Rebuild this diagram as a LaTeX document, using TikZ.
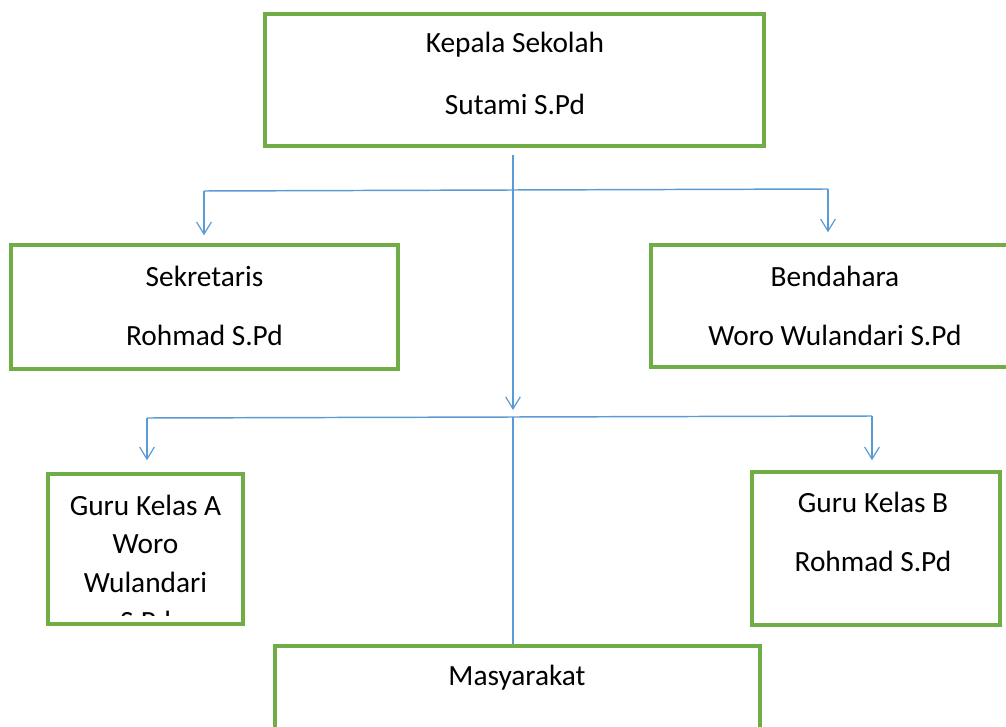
\documentclass[tikz,border=0pt]{standalone}
\usepackage{fontspec}
\setmainfont{Carlito}
\usetikzlibrary{arrows.meta}
\definecolor{boxgreen}{HTML}{70AD47}
\definecolor{linkblue}{HTML}{5B9BD5}
\tikzset{
  orgbox/.style={draw=boxgreen, line width=2.6pt, rectangle, inner sep=0pt},
  lbl/.style={inner sep=0pt, font=\fontsize{22}{26}\selectfont, text=black},
  conn/.style={draw=linkblue, line width=1.1pt},
  arr/.style={conn, -{Straight Barb[length=9pt, width=11pt, line width=0.9pt]}}
}
\begin{document}
\begin{tikzpicture}[x=0.75pt,y=-0.75pt]
\useasboundingbox (0,0) rectangle (1006,727);
\clip (0,0) rectangle (1006,727);
% boxes
\node[orgbox, minimum width=374.25pt, minimum height=99pt] (kepala) at (514.5,80) {};
\node[orgbox, minimum width=290.25pt, minimum height=93pt] (sek) at (204.5,307) {};
\node[orgbox, minimum width=276pt, minimum height=91.5pt] (bend) at (835,306) {};
\node[orgbox, minimum width=146.25pt, minimum height=112.5pt] (guruA) at (145.5,549) {};
\node[orgbox, minimum width=186pt, minimum height=114.75pt] (guruB) at (876,548.5) {};
\node[orgbox, minimum width=363.75pt, minimum height=90pt] (masy) at (517.5,706) {};
% texts
\node[lbl] (kepalaA) at (515,45) {Kepala Sekolah};
\node[lbl] (kepalaB) at (515,104) {Sutami S.Pd};
\node[lbl] (sekA) at (204.5,276) {Sekretaris};
\node[lbl] (sekB) at (204.5,335) {Rohmad S.Pd};
\node[lbl] (bendA) at (835,276) {Bendahara};
\node[lbl] (bendB) at (835,335) {Woro Wulandari S.Pd};
\node[lbl] (guruA1) at (145.5,505) {Guru Kelas A};
\node[lbl] (guruA2) at (145.5,544) {Woro};
\node[lbl] (guruA3) at (145.5,582) {Wulandari};
\begin{scope}
\clip (50,590) rectangle (240,615);
\node[lbl] (guruA4) at (145.5,621) {S.Pd};
\end{scope}
\node[lbl] (guruB1) at (873,502) {Guru Kelas B};
\node[lbl] (guruB2) at (873,561) {Rohmad S.Pd};
\node[lbl] (masyA) at (517,678) {Masyarakat};
% junctions
\coordinate (top) at (513,155);
\coordinate (j1) at (513,190);
\coordinate (j1l) at (204,191);
\coordinate (j1r) at (828,189);
\coordinate (j2) at (513,417);
\coordinate (j2l) at (147,418);
\coordinate (j2r) at (872,416);
% connectors
\draw[arr, shorten >=5.25pt] (top) -- (j2);
\draw[conn] (j1l) -- (j1) -- (j1r);
\draw[arr, shorten >=6pt] (j1l) -- (sek.north -| j1l);
\draw[arr, shorten >=8.25pt] (j1r) -- (bend.north -| j1r);
\draw[conn] (j2l) -- (j2) -- (j2r);
\draw[arr, shorten >=9pt] (j2l) -- (guruA.north -| j2l);
\draw[arr, shorten >=7.5pt] (j2r) -- (guruB.north -| j2r);
\draw[conn] (j2) -- (masy.north -| j2);
\end{tikzpicture}
\end{document}
